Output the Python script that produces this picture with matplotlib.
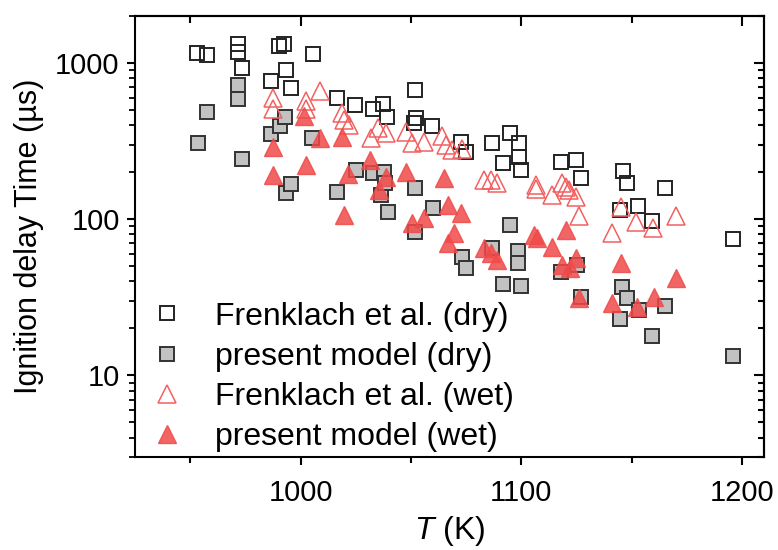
import matplotlib
matplotlib.use("Agg")
import matplotlib.pyplot as plt
from matplotlib.ticker import FixedLocator, LogLocator, NullFormatter

plt.rcParams['font.family'] = ['Liberation Sans', 'DejaVu Sans']
plt.rcParams['mathtext.fontset'] = 'custom'
plt.rcParams['mathtext.it'] = 'Liberation Sans:italic'
plt.rcParams['mathtext.rm'] = 'Liberation Sans'

# Frenklach et al. (dry)
fd_T = [953.1, 957.6, 971.7, 971.7, 973.5, 990.3, 992.5, 986.6, 993.4, 995.7,
        1005.7, 1016.5, 1024.7, 1032.9, 1037.4, 1039.2, 1051.9, 1052.3, 1051.4, 1059.6,
        1072.7, 1075.0, 1086.8, 1094.9, 1099.0, 1091.8, 1099.0, 1099.9, 1118.1, 1124.9,
        1127.2, 1146.2, 1148.0, 1165.2, 1144.8, 1152.9, 1159.3, 1196.0]
fd_tau = [1165, 1131, 1330, 1183, 935, 1291, 1330, 772, 908, 696,
          1148, 601, 542, 504, 550, 448, 676, 442, 410, 393,
          310, 268, 306, 354, 306, 228, 249, 206, 231, 238,
          183, 203, 170, 158, 114, 121, 97, 74.5]

# present model (dry)
pd_T = [957.6, 953.5, 971.7, 971.7, 973.5, 986.6, 990.7, 993.0, 993.4, 995.7,
        1005.2, 1016.5, 1025.2, 1032.9, 1037.8, 1036.5, 1038.3, 1039.7, 1051.9, 1051.9,
        1060.0, 1073.2, 1075.0, 1086.8, 1094.9, 1098.6, 1098.6, 1091.8, 1099.9, 1118.1,
        1125.4, 1127.2, 1145.7, 1148.0, 1153.4, 1144.8, 1165.2, 1159.3, 1196.0]
pd_tau = [489, 306, 728, 584, 242, 349, 393, 448, 147, 167,
          329, 149, 206, 197, 200, 142, 170, 111, 158, 82.6,
          117.5, 57.2, 48.7, 65.3, 91.6, 62.5, 52.4, 38.5, 37.3, 45.9,
          50.8, 31.8, 36.8, 31.3, 26.2, 23.0, 27.8, 17.9, 13.3]

# Frenklach et al. (wet)
fw_T = [987.5, 987.5, 1002.5, 1002.5, 1008.8, 1018.8, 1019.7, 1022.0, 1032.0, 1035.1,
        1038.7, 1047.8, 1050.5, 1056.0, 1064.1, 1065.9, 1068.7, 1073.2, 1083.2, 1086.3,
        1089.0, 1106.7, 1106.7, 1114.0, 1118.6, 1120.4, 1121.7, 1124.9, 1126.3, 1141.2,
        1145.3, 1152.0, 1159.8, 1170.2]
fw_tau = [601, 511, 575, 504, 666, 475, 429, 398, 329, 381,
          354, 359, 306, 310, 339, 297, 276, 280, 177, 177,
          170, 165, 155.5, 142, 170, 160, 153, 138, 104.5, 81.4,
          119, 95.7, 87.6, 104.5]

# present model (wet)
pw_T = [987.5, 987.5, 1001.6, 1002.5, 1008.8, 1018.8, 1021.5, 1019.7, 1031.5, 1035.6,
        1038.7, 1047.8, 1050.5, 1056.0, 1065.0, 1066.8, 1072.7, 1069.6, 1066.8, 1083.2,
        1086.3, 1089.0, 1105.8, 1107.2, 1114.0, 1120.4, 1118.6, 1122.2, 1124.9, 1126.3,
        1145.3, 1141.2, 1152.5, 1160.2, 1170.2]
pw_tau = [288, 191, 461, 221, 329, 334, 194, 106, 238, 153,
          185, 200, 94.3, 101.5, 183, 123, 109, 81.4, 70.3, 65.3,
          60.7, 54.7, 79.0, 75.6, 66.3, 85.1, 50.8, 48.7, 56.4, 31.3,
          52.4, 29.1, 27.4, 31.8, 42.0]

labels = ["Frenklach et al. (dry)", "present model (dry)",
          "Frenklach et al. (wet)", "present model (wet)"]

fig = plt.figure(figsize=(7.78, 5.5), dpi=100)
ax = fig.add_axes([0.1735, 0.169, 0.8085, 0.802])

red = '#f04a4a'
ax.plot(fd_T, fd_tau, linestyle='none', marker='s', markersize=9.8,
        markerfacecolor='none', markeredgecolor='#222222', markeredgewidth=1.4,
        label=labels[0])
ax.plot(pd_T, pd_tau, linestyle='none', marker='s', markersize=9.8,
        markerfacecolor='#c2c2c2', markeredgecolor='#333333', markeredgewidth=1.4,
        label=labels[1])
ax.plot(fw_T, fw_tau, linestyle='none', marker='^', markersize=12.5,
        markerfacecolor='none', markeredgecolor='#f26060', markeredgewidth=1.1,
        label=labels[2])
ax.plot(pw_T, pw_tau, linestyle='none', marker='^', markersize=12.5,
        markerfacecolor=red, markeredgecolor=red, markeredgewidth=1.0, alpha=0.85,
        label=labels[3])

ax.set_yscale('log')
ax.set_xlim(925, 1210)
ax.set_ylim(3, 2000)

ax.xaxis.set_major_locator(FixedLocator([1000, 1100, 1200]))
ax.xaxis.set_minor_locator(FixedLocator([950, 1050, 1150]))
ax.yaxis.set_major_locator(LogLocator(base=10, numticks=10))
ax.yaxis.set_minor_locator(LogLocator(base=10, subs=range(2, 10), numticks=20))
ax.yaxis.set_minor_formatter(NullFormatter())
ax.yaxis.set_major_formatter(plt.FuncFormatter(lambda v, p: f"{int(round(v))}"))

for s in ax.spines.values():
    s.set_linewidth(1.5)

ax.tick_params(axis='both', which='major', direction='out', length=6, width=1.5,
               labelsize=21, top=False, right=False)
ax.tick_params(axis='x', which='major', pad=10)
ax.tick_params(axis='y', which='major', pad=5)
ax.tick_params(axis='x', which='minor', direction='out', length=4.5, width=1.5, top=False)
ax.tick_params(axis='y', which='minor', direction='out', length=4, width=1.3, right=False)

secx = ax.secondary_xaxis('top')
secx.xaxis.set_major_locator(FixedLocator([1000, 1100, 1200]))
secx.xaxis.set_minor_locator(FixedLocator([950, 1050, 1150]))
secx.tick_params(which='major', direction='in', length=7, width=1.5, labeltop=False)
secx.tick_params(which='minor', direction='in', length=5, width=1.5)
secx.spines['top'].set_linewidth(1.5)

secy = ax.secondary_yaxis('right')
secy.yaxis.set_major_locator(LogLocator(base=10, numticks=10))
secy.yaxis.set_minor_locator(LogLocator(base=10, subs=range(2, 10), numticks=20))
secy.tick_params(which='major', direction='in', length=7, width=1.5, labelright=False)
secy.tick_params(which='minor', direction='in', length=4.5, width=1.5, labelright=False)
secy.spines['right'].set_linewidth(1.5)

ax.set_xlabel("$T$ (K)", fontsize=23, labelpad=5)
ax.set_ylabel("Ignition delay Time (\u00b5s)", fontsize=22, labelpad=8)

leg = ax.legend(loc='lower left', bbox_to_anchor=(0.025, 0.011), frameon=False,
                fontsize=23, handlelength=1.0, handletextpad=1.0,
                borderaxespad=0.0, borderpad=0.0, labelspacing=0.32)

fig.savefig("out.png", dpi=100)
